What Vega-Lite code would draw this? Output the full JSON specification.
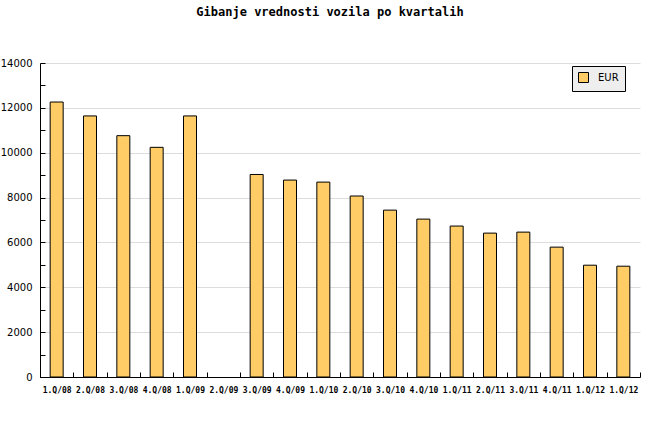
{
  "$schema": "https://vega.github.io/schema/vega-lite/v6.json",
  "width": 600,
  "height": 314,
  "autosize": {"type": "none"},
  "padding": {"left": 40, "top": 63, "right": 20, "bottom": 63},
  "background": "white",
  "title": {
    "text": "Gibanje vrednosti vozila po kvartalih",
    "font": "DejaVu Sans Mono",
    "fontSize": 12,
    "fontWeight": "bold",
    "color": "black",
    "baseline": "alphabetic",
    "offset": 30,
    "dx": -10
  },
  "data": {
    "values": [
      {"kvartal": "1.Q/08#1", "eur": 12260},
      {"kvartal": "2.Q/08#2", "eur": 11640},
      {"kvartal": "3.Q/08#3", "eur": 10760},
      {"kvartal": "4.Q/08#4", "eur": 10240},
      {"kvartal": "1.Q/09#5", "eur": 11640},
      {"kvartal": "2.Q/09#6", "eur": 0},
      {"kvartal": "3.Q/09#7", "eur": 9030},
      {"kvartal": "4.Q/09#8", "eur": 8780},
      {"kvartal": "1.Q/10#9", "eur": 8690},
      {"kvartal": "2.Q/10#10", "eur": 8070},
      {"kvartal": "3.Q/10#11", "eur": 7440},
      {"kvartal": "4.Q/10#12", "eur": 7040},
      {"kvartal": "1.Q/11#13", "eur": 6730},
      {"kvartal": "2.Q/11#14", "eur": 6415},
      {"kvartal": "3.Q/11#15", "eur": 6460},
      {"kvartal": "4.Q/11#16", "eur": 5790},
      {"kvartal": "1.Q/12#17", "eur": 4985},
      {"kvartal": "1.Q/12#18", "eur": 4940}
    ]
  },
  "mark": {"type": "bar", "width": 13, "stroke": "black", "strokeWidth": 1},
  "encoding": {
    "x": {
      "field": "kvartal",
      "type": "nominal",
      "sort": null,
      "title": null,
      "scale": {"paddingInner": 0, "paddingOuter": 0},
      "axis": {
        "labelExpr": "split(datum.label, '#')[0]",
        "labelAngle": 0,
        "labelFont": "DejaVu Sans Mono",
        "labelFontSize": 8,
        "labelFontWeight": "bold",
        "labelColor": "black",
        "labelPadding": 14,
        "tickBand": "extent",
        "tickSize": -5,
        "tickColor": "black",
        "domainColor": "black",
        "grid": false
      }
    },
    "y": {
      "field": "eur",
      "type": "quantitative",
      "title": null,
      "scale": {"domain": [0, 14000], "nice": false},
      "axis": {
        "values": [0, 1000, 2000, 3000, 4000, 5000, 6000, 7000, 8000, 9000, 10000, 11000, 12000, 13000, 14000],
        "labelExpr": "datum.value % 2000 == 0 ? format(datum.value, 'd') : ''",
        "labelFont": "DejaVu Sans",
        "labelFontSize": 10,
        "labelColor": "black",
        "labelPadding": 13,
        "tickSize": -5,
        "tickColor": "black",
        "domainColor": "black",
        "grid": true,
        "gridColor": "#dddddd",
        "gridOpacity": {"condition": {"test": "datum.value % 2000 != 0", "value": 0}, "value": 1}
      }
    },
    "opacity": {
      "condition": {"test": "datum.eur == 0", "value": 0},
      "value": 1
    },
    "color": {
      "datum": "EUR",
      "type": "nominal",
      "scale": {"range": ["#ffcc66"]},
      "legend": {
        "title": null,
        "orient": "none",
        "legendX": 532,
        "legendY": 3,
        "fillColor": "#eeeeee",
        "strokeColor": "black",
        "padding": 6,
        "symbolType": "square",
        "symbolSize": 100,
        "symbolStrokeColor": "black",
        "symbolStrokeWidth": 1,
        "symbolOpacity": 1,
        "labelFont": "DejaVu Sans",
        "labelFontSize": 10,
        "labelColor": "black",
        "labelOffset": 9,
        "labelLimit": 40
      }
    }
  },
  "config": {
    "view": {"stroke": null},
    "axis": {"domainWidth": 1, "tickWidth": 1}
  }
}
